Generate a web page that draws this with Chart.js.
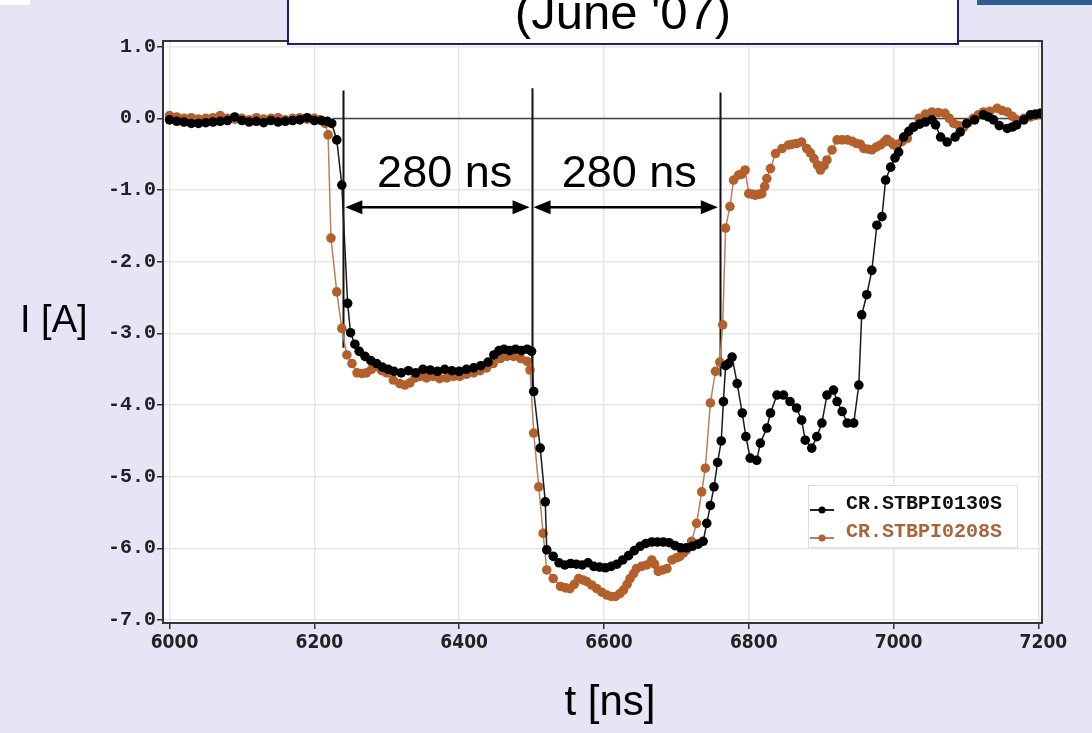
<!DOCTYPE html>
<html>
<head>
<meta charset="utf-8">
<style>
  html, body { margin: 0; padding: 0; background: #e5e5f5; }
  canvas { display: block; }
</style>
<script src="https://cdn.jsdelivr.net/npm/chart.js@4/dist/chart.umd.min.js"></script>
</head>
<body>
<canvas id="c" width="1092" height="733"></canvas>
<script>
// --- data (t in ns, I in A) ---
var X_TICKS = [6000, 6200, 6400, 6600, 6800, 7000, 7200];
var Y_TICKS = [1, 0, -1, -2, -3, -4, -5, -6, -7];

var T_130 = [6000, 6010, 6020, 6030, 6040, 6050, 6060, 6070, 6080, 6090, 6100, 6110, 6120, 6130, 6140, 6150, 6160, 6170, 6180, 6190, 6200, 6210, 6218, 6224, 6231, 6238, 6246, 6250, 6256, 6262, 6270, 6278, 6286, 6294, 6302, 6310, 6320, 6330, 6340, 6350, 6360, 6370, 6380, 6390, 6400, 6410, 6420, 6430, 6440, 6448, 6455, 6462, 6470, 6478, 6486, 6494, 6500, 6503, 6512, 6519, 6521, 6530, 6538, 6546, 6554, 6562, 6570, 6578, 6586, 6594, 6602, 6610, 6618, 6626, 6634, 6642, 6650, 6658, 6666, 6674, 6682, 6690, 6698, 6706, 6714, 6722, 6730, 6737, 6742, 6747, 6752, 6757, 6762, 6765, 6768, 6772, 6777, 6784, 6791, 6796, 6802, 6811, 6816, 6825, 6830, 6839, 6848, 6857, 6866, 6873, 6878, 6887, 6894, 6901, 6908, 6917, 6922, 6929, 6936, 6945, 6952, 6956, 6963, 6970, 6977, 6984, 6989, 6996, 7002, 7007, 7014, 7021, 7028, 7036, 7044, 7053, 7058, 7065, 7074, 7085, 7092, 7101, 7112, 7124, 7131, 7138, 7146, 7157, 7164, 7170, 7180, 7189, 7196, 7203];
var I_130 = [-0.02, -0.04, -0.05, -0.07, -0.07, -0.06, -0.05, -0.04, -0.03, 0.02, -0.03, -0.05, -0.04, -0.06, -0.03, -0.05, -0.04, -0.03, -0.02, 0.01, -0.03, -0.03, -0.04, -0.07, -0.30, -0.93, -2.58, -2.99, -3.15, -3.25, -3.32, -3.38, -3.42, -3.47, -3.50, -3.53, -3.55, -3.52, -3.55, -3.50, -3.51, -3.53, -3.50, -3.52, -3.53, -3.50, -3.48, -3.45, -3.40, -3.30, -3.24, -3.22, -3.24, -3.22, -3.24, -3.22, -3.25, -3.81, -4.60, -5.35, -6.02, -6.11, -6.20, -6.23, -6.21, -6.22, -6.23, -6.20, -6.25, -6.26, -6.27, -6.25, -6.22, -6.16, -6.10, -6.03, -5.97, -5.93, -5.91, -5.91, -5.91, -5.92, -5.96, -5.99, -5.99, -5.97, -5.94, -5.90, -5.65, -5.40, -5.14, -4.80, -4.50, -3.95, -3.45, -3.42, -3.33, -3.70, -4.11, -4.44, -4.74, -4.77, -4.53, -4.32, -4.11, -3.86, -3.86, -3.95, -4.04, -4.21, -4.49, -4.60, -4.44, -4.25, -3.86, -3.79, -3.95, -4.09, -4.25, -4.25, -3.72, -2.74, -2.46, -2.12, -1.49, -1.37, -0.86, -0.68, -0.55, -0.47, -0.26, -0.18, -0.12, -0.08, -0.05, -0.02, -0.09, -0.26, -0.33, -0.26, -0.19, -0.07, -0.02, 0.05, 0.02, -0.02, -0.10, -0.14, -0.12, -0.09, -0.02, 0.05, 0.06, 0.07];

var T_208 = [6000, 6010, 6020, 6030, 6040, 6050, 6060, 6070, 6080, 6090, 6100, 6110, 6120, 6130, 6140, 6150, 6160, 6170, 6180, 6190, 6200, 6208, 6215, 6219, 6223, 6231, 6238, 6245, 6252, 6259, 6266, 6272, 6279, 6286, 6293, 6300, 6309, 6318, 6325, 6332, 6339, 6346, 6355, 6364, 6373, 6383, 6392, 6401, 6410, 6420, 6429, 6438, 6447, 6457, 6466, 6475, 6485, 6494, 6498, 6503, 6510, 6516, 6521, 6530, 6540, 6547, 6553, 6559, 6565, 6571, 6576, 6583, 6590, 6597, 6604, 6610, 6616, 6622, 6627, 6632, 6636, 6641, 6645, 6652, 6659, 6666, 6670, 6675, 6681, 6687, 6694, 6700, 6705, 6710, 6714, 6721, 6728, 6735, 6740, 6747, 6754, 6760, 6764, 6768, 6774, 6779, 6786, 6790, 6795, 6800, 6805, 6809, 6814, 6818, 6822, 6825, 6830, 6837, 6846, 6855, 6860, 6866, 6873, 6880, 6885, 6890, 6895, 6899, 6904, 6908, 6915, 6922, 6929, 6936, 6943, 6949, 6954, 6959, 6965, 6970, 6976, 6982, 6987, 6991, 6996, 7000, 7005, 7012, 7019, 7027, 7035, 7044, 7053, 7062, 7071, 7077, 7083, 7090, 7097, 7103, 7110, 7117, 7124, 7133, 7143, 7150, 7157, 7164, 7170, 7180, 7189, 7196, 7203];
var I_208 = [0.04, 0.02, 0.00, 0.01, -0.01, 0.00, 0.01, 0.04, 0.00, -0.01, 0.00, -0.02, 0.01, -0.01, 0.00, 0.01, -0.02, 0.00, 0.01, -0.01, 0.00, -0.02, -0.07, -0.23, -1.67, -2.42, -2.93, -3.30, -3.42, -3.55, -3.56, -3.55, -3.50, -3.46, -3.52, -3.55, -3.65, -3.70, -3.72, -3.69, -3.62, -3.60, -3.62, -3.60, -3.63, -3.62, -3.60, -3.60, -3.57, -3.55, -3.52, -3.48, -3.42, -3.35, -3.32, -3.32, -3.35, -3.39, -3.51, -4.39, -5.14, -5.79, -6.30, -6.42, -6.53, -6.55, -6.56, -6.50, -6.42, -6.44, -6.46, -6.51, -6.56, -6.61, -6.65, -6.67, -6.67, -6.63, -6.58, -6.50, -6.42, -6.35, -6.28, -6.25, -6.23, -6.16, -6.22, -6.32, -6.30, -6.28, -6.16, -6.13, -6.11, -6.06, -6.02, -5.90, -5.65, -5.21, -4.88, -3.97, -3.53, -3.40, -2.88, -1.53, -1.23, -0.86, -0.79, -0.78, -0.72, -1.05, -1.06, -1.07, -1.06, -1.05, -0.95, -0.84, -0.70, -0.49, -0.42, -0.37, -0.36, -0.35, -0.33, -0.42, -0.48, -0.56, -0.65, -0.72, -0.66, -0.58, -0.44, -0.30, -0.30, -0.30, -0.32, -0.35, -0.36, -0.42, -0.43, -0.44, -0.40, -0.37, -0.33, -0.29, -0.33, -0.37, -0.36, -0.32, -0.28, -0.12, 0.00, 0.06, 0.09, 0.08, 0.07, 0.00, -0.07, -0.10, -0.12, -0.06, 0.00, 0.05, 0.09, 0.10, 0.14, 0.11, 0.09, 0.03, -0.02, 0.00, 0.02, 0.04, 0.07];

var SERIES_NAMES = ['CR.STBPI0130S', 'CR.STBPI0208S'];
// marker lines: start of flat top, end of flat top, recovery (ns)
var MARKS = [6240, 6500, 6760];
var SPAN_LABEL = '280 ns';
var SPAN_LABEL_AT = [6380, 6635];

var BG = '#e5e5f5';
var BLACK = '#000000';
var BROWN = '#b3602c';
var BROWN_LINE = '#b8805c';
var AXIS = '#333333';
var GRID = '#e6e6e6';

function pts(t, v) {
  return t.map(function (x, i) { return { x: x, y: v[i] }; });
}

// background, plot area, title box and legend
var frame = {
  id: 'frame',
  beforeDraw: function (chart) {
    var ctx = chart.ctx, a = chart.chartArea;
    ctx.save();
    ctx.fillStyle = BG;
    ctx.fillRect(0, 0, chart.width, chart.height);
    ctx.fillStyle = '#ffffff';
    ctx.fillRect(a.left, a.top, a.right - a.left, a.bottom - a.top);
    // bits of the slide around the plot
    ctx.fillRect(0, 0, 30, 5);
    ctx.fillStyle = '#2f5f95';
    ctx.fillRect(977, 0, 115, 5);
    ctx.restore();
  },
  beforeDatasetsDraw: function (chart) {
    var ctx = chart.ctx, a = chart.chartArea;
    var xs = chart.scales.x, ys = chart.scales.y;
    ctx.save();
    ctx.strokeStyle = '#444';
    ctx.lineWidth = 1.5;
    ctx.beginPath();
    ctx.moveTo(xs.getPixelForValue(6225), ys.getPixelForValue(0));
    ctx.lineTo(a.right, ys.getPixelForValue(0));
    ctx.stroke();
    ctx.strokeStyle = '#111';
    ctx.lineWidth = 2;
    var ends = [-3.2, -3.8, -3.6];
    var tops = [0.39, 0.42, 0.36];
    MARKS.forEach(function (t, i) {
      var px = Math.round(xs.getPixelForValue(t)) + 0.5;
      ctx.beginPath();
      ctx.moveTo(px, ys.getPixelForValue(tops[i]));
      ctx.lineTo(px, ys.getPixelForValue(ends[i]));
      ctx.stroke();
    });
    ctx.restore();
  },
  afterDatasetsDraw: function (chart) {
    var ctx = chart.ctx, a = chart.chartArea;
    var xs = chart.scales.x, ys = chart.scales.y;
    ctx.save();
    // double arrows between the marker lines
    var ay = ys.getPixelForValue(-1.24);
    function head(x, dir) {
      ctx.beginPath();
      ctx.moveTo(x, ay);
      ctx.lineTo(x + dir * 17, ay - 7);
      ctx.lineTo(x + dir * 17, ay + 7);
      ctx.closePath();
      ctx.fill();
    }
    ctx.strokeStyle = '#000';
    ctx.fillStyle = '#000';
    ctx.lineWidth = 2.5;
    for (var i = 0; i < MARKS.length - 1; i++) {
      var x0 = xs.getPixelForValue(MARKS[i]) + 2;
      var x1 = xs.getPixelForValue(MARKS[i + 1]) - 2;
      ctx.beginPath();
      ctx.moveTo(x0 + 10, ay);
      ctx.lineTo(x1 - 10, ay);
      ctx.stroke();
      head(x0, 1);
      head(x1, -1);
      ctx.font = '45px "Liberation Sans", Arial, sans-serif';
      ctx.textAlign = 'center';
      ctx.textBaseline = 'middle';
      ctx.fillText(SPAN_LABEL, xs.getPixelForValue(SPAN_LABEL_AT[i]), ys.getPixelForValue(-0.79));
    }

    // plot frame (top and right sides)
    ctx.strokeStyle = AXIS;
    ctx.lineWidth = 2;
    ctx.strokeRect(a.left, a.top, a.right - a.left, a.bottom - a.top);

    // legend inside the plot
    ctx.fillStyle = '#ffffff';
    ctx.fillRect(808, 485, 209, 62);
    ctx.strokeStyle = '#dedede';
    ctx.lineWidth = 1;
    ctx.strokeRect(808.5, 485.5, 209, 62);
    var rows = [{ y: 508, c: BLACK, l: '#222', t: '#111' }, { y: 536, c: BROWN, l: BROWN_LINE, t: '#a8643a' }];
    rows.forEach(function (r, k) {
      ctx.strokeStyle = r.l;
      ctx.lineWidth = 2;
      ctx.beginPath();
      ctx.moveTo(810, r.y + 2);
      ctx.lineTo(834, r.y + 2);
      ctx.stroke();
      ctx.fillStyle = r.c;
      ctx.beginPath();
      ctx.arc(822, r.y + 2, 3.5, 0, Math.PI * 2);
      ctx.fill();
      ctx.fillStyle = r.t;
      ctx.font = 'bold 20px "Liberation Mono", "Courier New", monospace';
      ctx.textAlign = 'left';
      ctx.textBaseline = 'middle';
      ctx.fillText(SERIES_NAMES[k], 846, r.y - 4);
    });

    // axis titles
    ctx.fillStyle = '#000';
    ctx.font = '38px "Liberation Sans", Arial, sans-serif';
    ctx.textAlign = 'left';
    ctx.textBaseline = 'middle';
    ctx.fillText('I [A]', 20, 322);
    ctx.font = '42px "Liberation Sans", Arial, sans-serif';
    ctx.textAlign = 'center';
    ctx.fillText('t [ns]', 610, 703);

    // title box, cut at the top edge
    ctx.fillStyle = '#ffffff';
    ctx.fillRect(288, -5, 670, 49);
    ctx.strokeStyle = '#1c1c7c';
    ctx.lineWidth = 2;
    ctx.strokeRect(288, -5, 670, 49);
    ctx.fillStyle = '#000';
    ctx.font = '49px "Liberation Sans", Arial, sans-serif';
    ctx.textAlign = 'center';
    ctx.textBaseline = 'alphabetic';
    ctx.fillText("(June '07)", 623, 29);
    ctx.restore();
  }
};

new Chart(document.getElementById('c'), {
  type: 'line',
  data: {
    datasets: [
      { label: SERIES_NAMES[0], data: pts(T_130, I_130), borderColor: '#1a1a1a', borderWidth: 1.5,
        pointRadius: 4.8, pointBackgroundColor: BLACK, pointBorderWidth: 0, order: 1 },
      { label: SERIES_NAMES[1], data: pts(T_208, I_208), borderColor: BROWN_LINE, borderWidth: 1.5,
        pointRadius: 4.8, pointBackgroundColor: BROWN, pointBorderWidth: 0, order: 2 }
    ]
  },
  options: {
    responsive: false,
    animation: false,
    layout: { padding: { top: 41, right: 50, bottom: 0, left: 0 } },
    plugins: { legend: { display: false }, tooltip: { enabled: false } },
    scales: {
      x: {
        type: 'linear', min: 5991, max: 7205,
        afterBuildTicks: function (s) { s.ticks = X_TICKS.map(function (v) { return { value: v }; }); },
        afterFit: function (s) { s.height = 110; },
        ticks: { color: '#222', padding: 3, labelOffset: 5,
                 font: { family: '"DejaVu Sans Condensed", "Liberation Sans Narrow", sans-serif', weight: 'bold', size: 19 },
                 callback: function (v) { return String(v); } },
        grid: { color: GRID, lineWidth: 1.5, tickLength: 6, tickColor: AXIS },
        border: { color: AXIS, width: 2 }
      },
      y: {
        type: 'linear', min: -7.04, max: 1.08,
        afterBuildTicks: function (s) { s.ticks = Y_TICKS.map(function (v) { return { value: v }; }); },
        afterFit: function (s) { s.width = 163; },
        ticks: { color: '#222', padding: 1,
                 font: { family: '"Liberation Mono", "Courier New", monospace', weight: 'bold', size: 20 },
                 callback: function (v) { return v.toFixed(1); } },
        grid: { color: GRID, lineWidth: 1.5, tickLength: 6, tickColor: AXIS },
        border: { color: AXIS, width: 2 }
      }
    }
  },
  plugins: [frame]
});
</script>
</body>
</html>
